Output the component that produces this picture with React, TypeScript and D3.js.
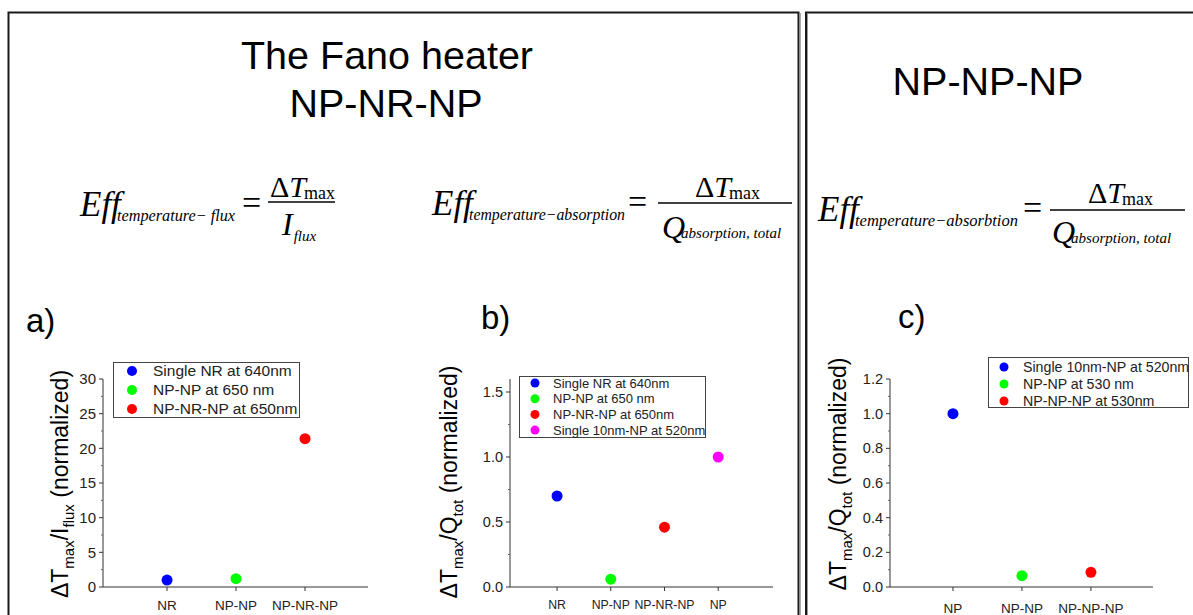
import React from "react";
import * as d3 from "d3";

// ---- data ----
const chartACategories = ["NR", "NP-NP", "NP-NR-NP"];
const chartAValues = [1.0, 1.2, 21.4];
const chartAColors = ["#0000ff", "#00ff00", "#ff0000"];
const chartALegend = ["Single NR at 640nm", "NP-NP at 650 nm", "NP-NR-NP at 650nm"];
const chartATicks = [0, 5, 10, 15, 20, 25, 30];

const chartBCategories = ["NR", "NP-NP", "NP-NR-NP", "NP"];
const chartBValues = [0.7, 0.06, 0.46, 1.0];
const chartBColors = ["#0000ff", "#00ff00", "#ff0000", "#ff00ff"];
const chartBLegend = [
  "Single NR at 640nm",
  "NP-NP at 650 nm",
  "NP-NR-NP at 650nm",
  "Single 10nm-NP at 520nm",
];
const chartBTicks = [0, 0.5, 1.0, 1.5];

const chartCCategories = ["NP", "NP-NP", "NP-NP-NP"];
const chartCValues = [1.0, 0.065, 0.085];
const chartCColors = ["#0000ff", "#00ff00", "#ff0000"];
const chartCLegend = ["Single 10nm-NP at 520nm", "NP-NP at 530 nm", "NP-NP-NP at 530nm"];
const chartCTicks = [0, 0.2, 0.4, 0.6, 0.8, 1.0, 1.2];

const SANS = "Arial, 'Liberation Sans', Helvetica, sans-serif";
const SERIF = "'Times New Roman', 'Liberation Serif', serif";

type Sub = { main: string; sub: string };

function YLabel({ x, y, q, sub }: { x: number; y: number; q: string; sub: string }) {
  return (
    <text
      transform={`translate(${x},${y}) rotate(-90)`}
      textAnchor="middle"
      fontFamily={SANS}
      fontSize={23}
      fill="#000"
    >
      <tspan>ΔT</tspan>
      <tspan fontSize={15} dy={6}>max</tspan>
      <tspan dy={-6}>/{q}</tspan>
      <tspan fontSize={15} dy={6}>{sub}</tspan>
      <tspan dy={-6}> (normalized)</tspan>
    </text>
  );
}

type ChartProps = {
  categories: string[];
  values: number[];
  colors: string[];
  legend: string[];
  ticks: number[];
  yMax: number;
  xAxis: [number, number];
  xDomain: [number, number];
  yAxis: [number, number];
  tickFont: number;
  tickFmt: (v: number) => string;
  catY: number;
  catFont: number;
  legendBox: { x: number; y: number; w: number; h: number };
  legendRows: { x0: number; tx: number; y0: number; dy: number; font: number; r: number };
  pointR: number;
};

function Chart(p: ChartProps) {
  const x = d3.scaleLinear().domain(p.xDomain).range(p.xAxis);
  const y = d3.scaleLinear().domain([0, p.yMax]).range(p.yAxis);
  const step = p.ticks[1] - p.ticks[0];
  const minor = d3.range(0, p.yMax + 1e-9, step / 2).filter(
    (v) => !p.ticks.some((t) => Math.abs(t - v) < 1e-9)
  );
  const x0 = p.xAxis[0];
  const y0 = p.yAxis[0];
  return (
    <g>
      {/* axes */}
      <line x1={x0} x2={x0} y1={y(0)} y2={y(p.yMax)} stroke="#333" strokeWidth={1} />
      <line x1={x0} x2={p.xAxis[1]} y1={y0} y2={y0} stroke="#333" strokeWidth={1} />
      {p.ticks.map((t) => (
        <g key={"t" + t}>
          <line x1={x0 - 4} x2={x0} y1={y(t)} y2={y(t)} stroke="#333" strokeWidth={1} />
          <text
            x={x0 - 7}
            y={y(t)}
            dy="0.35em"
            textAnchor="end"
            fontFamily={SANS}
            fontSize={p.tickFont}
            fill="#222"
          >
            {p.tickFmt(t)}
          </text>
        </g>
      ))}
      {minor.map((t) => (
        <line key={"m" + t} x1={x0 - 2} x2={x0} y1={y(t)} y2={y(t)} stroke="#666" strokeWidth={1} />
      ))}
      {p.categories.map((c, i) => (
        <g key={"c" + c}>
          <line x1={x(i + 1)} x2={x(i + 1)} y1={y0} y2={y0 + 4} stroke="#333" strokeWidth={1} />
          <text
            x={x(i + 1)}
            y={p.catY}
            dy="0.35em"
            textAnchor="middle"
            fontFamily={SANS}
            fontSize={p.catFont}
            fill="#222"
          >
            {c}
          </text>
        </g>
      ))}
      {/* points */}
      {p.values.map((v, i) => (
        <circle key={"p" + i} cx={x(i + 1)} cy={y(v)} r={p.pointR} fill={p.colors[i]} />
      ))}
      {/* legend */}
      <rect
        x={p.legendBox.x}
        y={p.legendBox.y}
        width={p.legendBox.w}
        height={p.legendBox.h}
        fill="#fff"
        stroke="#444"
        strokeWidth={1}
      />
      {p.legend.map((l, i) => (
        <g key={"l" + i}>
          <circle
            cx={p.legendRows.x0}
            cy={p.legendRows.y0 + i * p.legendRows.dy}
            r={p.legendRows.r}
            fill={p.colors[i]}
          />
          <text
            x={p.legendRows.tx}
            y={p.legendRows.y0 + i * p.legendRows.dy}
            dy="0.35em"
            fontFamily={SANS}
            fontSize={p.legendRows.font}
            fill="#222"
          >
            {l}
          </text>
        </g>
      ))}
    </g>
  );
}

// Efficiency formula: Eff_sub = ΔT_max / denominator
function Formula({
  x,
  base,
  sub,
  subEnd,
  eqX,
  bar,
  barY,
  numX,
  numBase,
  denX,
  denBase,
  den,
}: {
  x: number;
  base: number;
  sub: string;
  subEnd: number;
  eqX: number;
  bar: [number, number];
  barY: number;
  numX: number;
  numBase: number;
  denX: number;
  denBase: number;
  den: Sub;
}) {
  return (
    <g fontFamily={SERIF} fill="#000">
      <text x={x} y={base} fontSize={35} fontStyle="italic">
        Eff
      </text>
      <text
        x={x + 37}
        y={base + 5}
        fontSize={16}
        fontStyle="italic"
        textLength={subEnd - x - 37}
        lengthAdjust="spacingAndGlyphs"
      >
        {sub}
      </text>
      <text x={eqX} y={base - 2} fontSize={34}>
        =
      </text>
      <line x1={bar[0]} x2={bar[1]} y1={barY} y2={barY} stroke="#000" strokeWidth={1.6} />
      <text x={numX} y={numBase} fontSize={30}>
        <tspan>Δ</tspan>
        <tspan fontStyle="italic">T</tspan>
        <tspan fontSize={18} dx={-2} dy={2}>max</tspan>
      </text>
      <text x={denX} y={denBase} fontSize={32} fontStyle="italic">
        <tspan>{den.main}</tspan>
        <tspan fontSize={15} dx={den.main === "Q" ? -4 : 1} dy={den.main === "Q" ? 0 : 6}>
          {den.sub}
        </tspan>
      </text>
    </g>
  );
}

export default function App() {
  return (
    <svg
      width={1193}
      height={615}
      viewBox="0 0 1193 615"
      style={{ position: "absolute", left: 0, top: 0, background: "#fff" }}
    >
      <rect x={0} y={0} width={1193} height={615} fill="#fff" />
      {/* panel frames */}
      <g fill="none">
        <path d="M8.5,625 V12.5 H798.5 V625" stroke="#1a1a1a" strokeWidth={2} />
        <line x1={800.5} x2={800.5} y1={13} y2={625} stroke="#aaa" strokeWidth={1} />
        <path d="M806,625 V12.5 H1200" stroke="#1a1a1a" strokeWidth={2} />
        <line x1={807.5} x2={807.5} y1={13.5} y2={625} stroke="#999" strokeWidth={1} />
      </g>

      {/* titles */}
      <g fontFamily={SANS} fontSize={39.5} fill="#000" textAnchor="middle">
        <text x={387} y={69}>The Fano heater</text>
        <text x={386} y={117}>NP-NR-NP</text>
        <text x={988} y={95}>NP-NP-NP</text>
      </g>

      {/* formulas */}
      <Formula
        x={80}
        base={216}
        sub="temperature− flux"
        subEnd={235}
        eqX={242}
        bar={[268, 335]}
        barY={202}
        numX={270}
        numBase={197}
        denX={282}
        denBase={235}
        den={{ main: "I", sub: "flux" }}
      />
      <Formula
        x={432}
        base={215}
        sub="temperature−absorption"
        subEnd={625}
        eqX={628}
        bar={[658, 792]}
        barY={203}
        numX={695}
        numBase={197}
        denX={662}
        denBase={238}
        den={{ main: "Q", sub: "absorption, total" }}
      />
      <Formula
        x={818}
        base={221}
        sub="temperature−absorbtion"
        subEnd={1018}
        eqX={1023}
        bar={[1050, 1185]}
        barY={210}
        numX={1088}
        numBase={203}
        denX={1052}
        denBase={243}
        den={{ main: "Q", sub: "absorption, total" }}
      />

      {/* panel letters */}
      <g fontFamily={SANS} fontSize={33} fill="#000">
        <text x={26} y={332}>a)</text>
        <text x={481} y={329}>b)</text>
        <text x={898} y={328}>c)</text>
      </g>

      <YLabel x={68} y={484} q="I" sub="flux" />
      <YLabel x={457} y={482} q="Q" sub="tot" />
      <YLabel x={846} y={474} q="Q" sub="tot" />

      <Chart
        categories={chartACategories}
        values={chartAValues}
        colors={chartAColors}
        legend={chartALegend}
        ticks={chartATicks}
        yMax={30}
        xAxis={[103, 368]}
        xDomain={[0.072, 3.913]}
        yAxis={[587, 379]}
        tickFont={15}
        tickFmt={(v) => String(v)}
        catY={605}
        catFont={13.5}
        legendBox={{ x: 113.5, y: 362.5, w: 186, h: 55 }}
        legendRows={{ x0: 132, tx: 153, y0: 371, dy: 19, font: 15.5, r: 5 }}
        pointR={5.5}
      />
      <Chart
        categories={chartBCategories}
        values={chartBValues}
        colors={chartBColors}
        legend={chartBLegend}
        ticks={chartBTicks}
        yMax={1.6}
        xAxis={[510, 773]}
        xDomain={[0.124, 5.02]}
        yAxis={[587, 379]}
        tickFont={14.5}
        tickFmt={(v) => v.toFixed(1)}
        catY={605}
        catFont={12.3}
        legendBox={{ x: 519.5, y: 376.5, w: 186, h: 61 }}
        legendRows={{ x0: 535, tx: 553, y0: 383, dy: 15.7, font: 13, r: 4.5 }}
        pointR={5.5}
      />
      <Chart
        categories={chartCCategories}
        values={chartCValues}
        colors={chartCColors}
        legend={chartCLegend}
        ticks={chartCTicks}
        yMax={1.2}
        xAxis={[890, 1153]}
        xDomain={[0.087, 3.9]}
        yAxis={[587, 379]}
        tickFont={14.5}
        tickFmt={(v) => v.toFixed(1)}
        catY={608}
        catFont={13.5}
        legendBox={{ x: 988.5, y: 357.5, w: 200, h: 50 }}
        legendRows={{ x0: 1004, tx: 1023, y0: 367, dy: 17, font: 14.2, r: 4.5 }}
        pointR={5.5}
      />
    </svg>
  );
}
